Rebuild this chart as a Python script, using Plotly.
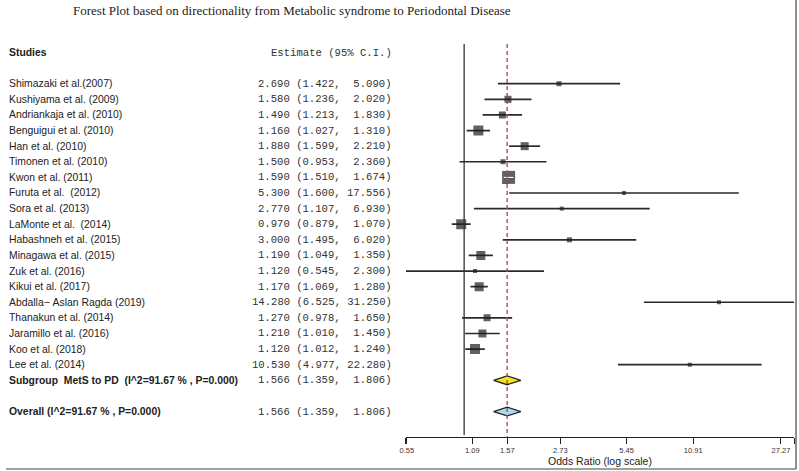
import math
import plotly.graph_objects as go

# ---------------- data ----------------
title_text = "Forest Plot based on directionality from Metabolic syndrome to Periodontal Disease"
studies = ["Shimazaki et al.(2007)", "Kushiyama et al. (2009)", "Andriankaja et al. (2010)",
           "Benguigui et al. (2010)", "Han et al. (2010)", "Timonen et al. (2010)",
           "Kwon et al. (2011)", "Furuta et al.  (2012)", "Sora et al. (2013)",
           "LaMonte et al.  (2014)", "Habashneh et al. (2015)", "Minagawa et al. (2015)",
           "Zuk et al. (2016)", "Kikui et al. (2017)", "Abdalla\u2212 Aslan Ragda (2019)",
           "Thanakun et al. (2014)", "Jaramillo et al. (2016)", "Koo et al. (2018)",
           "Lee et al. (2014)"]
est = [2.690, 1.580, 1.490, 1.160, 1.880, 1.500, 1.590, 5.300, 2.770, 0.970,
       3.000, 1.190, 1.120, 1.170, 14.280, 1.270, 1.210, 1.120, 10.530]
lo = [1.422, 1.236, 1.213, 1.027, 1.599, 0.953, 1.510, 1.600, 1.107, 0.879,
      1.495, 1.049, 0.545, 1.069, 6.525, 0.978, 1.010, 1.012, 4.977]
hi = [5.090, 2.020, 1.830, 1.310, 2.210, 2.360, 1.674, 17.556, 6.930, 1.070,
      6.020, 1.350, 2.300, 1.280, 31.250, 1.650, 1.450, 1.240, 22.280]
box_size = [5, 7, 7, 10, 8, 5, 13, 4, 4, 10, 5, 9, 4, 9, 4, 7, 8, 10, 4]

pooled_labels = ["Subgroup  MetS to PD  (I^2=91.67 % , P=0.000)", "Overall (I^2=91.67 % , P=0.000)"]
pooled_est = [1.566, 1.566]
pooled_lo = [1.359, 1.359]
pooled_hi = [1.806, 1.806]
pooled_fill = ["#f2e423", "#acdcec"]

tick_vals = [0.545, 0.55, 1.09, 1.57, 2.73, 5.45, 10.91, 27.27, 31.25]
tick_text = ["", "0.55", "1.09", "1.57", "2.73", "5.45", "10.91", "27.27", ""]
x_min, x_max = 0.545, 31.25

# ---------------- layout geometry ----------------
W, H = 799, 471
row0_px, row_step = 52.5, 15.61
axis_px = 436.7
study_rows = list(range(2, len(studies) + 2))
pooled_rows = [len(studies) + 2, len(studies) + 4]

def px_to_row(p):
    return (p - row0_px) / row_step

x_dom = [403 / W, 794 / W]
px_per_dec = (x_dom[1] - x_dom[0]) * W / (math.log10(x_max) - math.log10(x_min))

fig = go.Figure()

# CI lines
xs, ys = [], []
for r, a, b in zip(study_rows, lo, hi):
    xs += [a, b, None]
    ys += [r, r, None]
fig.add_trace(go.Scatter(x=xs, y=ys, mode="lines", line=dict(color="#2a2a2a", width=1.7),
                         hoverinfo="skip", showlegend=False))
# boxes
fig.add_trace(go.Scatter(x=est, y=study_rows, mode="markers",
                         marker=dict(symbol="square", size=box_size, color="#1e1e1e",
                                     line=dict(width=0)),
                         showlegend=False))
# white CI line when CI is inside box
wx, wy = [], []
for r, a, b, s in zip(study_rows, lo, hi, box_size):
    if (math.log10(b) - math.log10(a)) * px_per_dec < s:
        wx += [a, b, None]
        wy += [r, r, None]
if wx:
    fig.add_trace(go.Scatter(x=wx, y=wy, mode="lines", line=dict(color="white", width=1.3),
                             hoverinfo="skip", showlegend=False))

# diamonds
hh = 4.4 / row_step
for r, e, a, b, c in zip(pooled_rows, pooled_est, pooled_lo, pooled_hi, pooled_fill):
    fig.add_trace(go.Scatter(x=[a, e, b, e, a], y=[r, r - hh, r, r + hh, r],
                             mode="lines", fill="toself", fillcolor=c,
                             line=dict(color="#222222", width=1.3),
                             hoverinfo="skip", showlegend=False))

# reference lines
top_row, bot_row = px_to_row(44), px_to_row(435)
fig.add_shape(type="line", xref="x", yref="y", x0=1, x1=1, y0=top_row, y1=bot_row,
              line=dict(color="#333333", width=1.3))
fig.add_shape(type="line", xref="x", yref="y", x0=pooled_est[1], x1=pooled_est[1],
              y0=top_row, y1=px_to_row(437), line=dict(color="#a5524c", width=1.4, dash="4px,3px"))

# frame (right and bottom)
fig.add_shape(type="line", xref="paper", yref="paper", x0=796 / W, x1=796 / W, y0=1 - 469 / H, y1=1,
              line=dict(color="#444444", width=1.2))
fig.add_shape(type="line", xref="paper", yref="paper", x0=0, x1=796 / W, y0=1 - 469 / H, y1=1 - 469 / H,
              line=dict(color="#444444", width=1.2))

def nb(s):
    return s.replace(" ", "\u00a0")

sans = "Arial, Liberation Sans, sans-serif"
mono = "Courier New, Liberation Mono, monospace"
lab_font = dict(family=sans, size=10.4, color="#222222")
num_font = dict(family=mono, size=10.6, color="#333333")
lab_x = 1 / W
num_x = 390.5 / W

ann = []
ann.append(dict(x=lab_x, y=0, xref="paper", yref="y", text="<b>Studies</b>", showarrow=False,
                xanchor="left", yanchor="middle", font=lab_font))
ann.append(dict(x=num_x, y=0, xref="paper", yref="y", text=nb("Estimate (95% C.I.)"), showarrow=False,
                xanchor="right", yanchor="middle", font=num_font))
for r, s, e, a, b in zip(study_rows, studies, est, lo, hi):
    ann.append(dict(x=lab_x, y=r, xref="paper", yref="y", text=nb(s), showarrow=False,
                    xanchor="left", yanchor="middle", font=lab_font))
    ann.append(dict(x=num_x, y=r, xref="paper", yref="y",
                    text=nb(f"{e:.3f} ({a:.3f}, {b:6.3f})"), showarrow=False,
                    xanchor="right", yanchor="middle", font=num_font))
for r, s, e, a, b in zip(pooled_rows, pooled_labels, pooled_est, pooled_lo, pooled_hi):
    ann.append(dict(x=lab_x, y=r, xref="paper", yref="y", text="<b>" + nb(s) + "</b>", showarrow=False,
                    xanchor="left", yanchor="middle", font=lab_font))
    ann.append(dict(x=num_x, y=r, xref="paper", yref="y",
                    text=nb(f"{e:.3f} ({a:.3f}, {b:6.3f})"), showarrow=False,
                    xanchor="right", yanchor="middle", font=num_font))
ann.append(dict(x=65 / W, y=1 - 11 / H, xref="paper", yref="paper", text=title_text, showarrow=False,
                xanchor="left", yanchor="middle",
                font=dict(family="Liberation Serif, DejaVu Serif, serif", size=13, color="#222222")))

fig.update_layout(
    width=W, height=H, margin=dict(l=0, r=0, t=0, b=0),
    paper_bgcolor="white", plot_bgcolor="white",
    annotations=ann,
    xaxis=dict(type="log", domain=x_dom, range=[math.log10(x_min), math.log10(x_max)],
               tickvals=tick_vals, ticktext=tick_text, ticks="outside", ticklen=6,
               tickcolor="#222222", tickwidth=1.2,
               showline=True, linecolor="#222222", linewidth=1.2, showgrid=False, zeroline=False,
               tickfont=dict(family=sans, size=7.5, color="#333333"),
               title=dict(text="Odds Ratio (log scale)", standoff=1,
                          font=dict(family=sans, size=10.5, color="#222222"))),
    yaxis=dict(domain=[1 - axis_px / H, 1], range=[px_to_row(axis_px), px_to_row(0)],
               visible=False, showgrid=False, zeroline=False),
    showlegend=False,
)

fig.write_html("out.html", config={"displayModeBar": False},
               post_script="document.body.style.margin='0px';document.body.style.overflow='hidden';")
